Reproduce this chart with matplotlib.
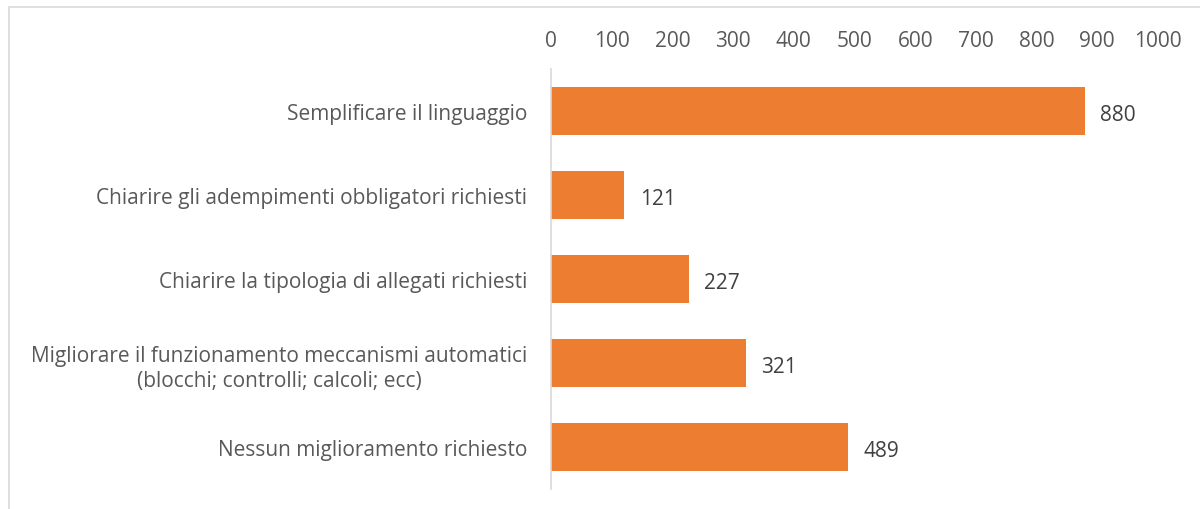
import matplotlib.pyplot as plt
from matplotlib.patches import Rectangle

plt.rcParams['font.family'] = ['Open Sans', 'DejaVu Sans']

categories = [
    'Semplificare il linguaggio',
    'Chiarire gli adempimenti obbligatori richiesti',
    'Chiarire la tipologia di allegati richiesti',
    'Migliorare il funzionamento meccanismi automatici\n(blocchi; controlli; calcoli; ecc)',
    'Nessun miglioramento richiesto',
]
values = [880, 121, 227, 321, 489]
xticks = [0, 100, 200, 300, 400, 500, 600, 700, 800, 900, 1000]

fig = plt.figure(figsize=(12, 5.1), dpi=100)
ax = fig.add_axes([0.4592, 0.0392, 0.965 - 0.4592, 0.8627 - 0.0392])

ypos = list(range(len(categories)))
ax.barh(ypos, values, height=0.57, color='#ED7D31')
ax.set_ylim(len(categories) - 0.5, -0.5)
ax.set_xlim(0, 1000)

for y, v in zip(ypos, values):
    ax.text(v + 25, y + 0.04, str(v), va='center', ha='left', fontsize=15, color='#404040')

ax.set_yticks(ypos)
ax.set_yticklabels(categories, fontsize=15, color='#595959', linespacing=1.25)
ax.set_xticks(xticks)
ax.set_xticklabels([str(t) for t in xticks], fontsize=15, color='#595959')
ax.xaxis.tick_top()
ax.tick_params(axis='both', length=0)
ax.tick_params(axis='x', pad=13)
ax.tick_params(axis='y', pad=17)
for lbl in ax.get_yticklabels():
    lbl.set_horizontalalignment('right')
    lbl.set_multialignment('center')

for s in ['top', 'right', 'bottom']:
    ax.spines[s].set_visible(False)
ax.spines['left'].set_color('#D9D9D9')
ax.spines['left'].set_linewidth(1.2)

# chart area border
fig.patches.append(Rectangle((9 / 1200, -0.1), 1.2, 1 - 8 / 510 + 0.1,
                             transform=fig.transFigure, fill=False,
                             edgecolor='#D9D9D9', linewidth=1.2))

fig.savefig('out.png', dpi=100)
